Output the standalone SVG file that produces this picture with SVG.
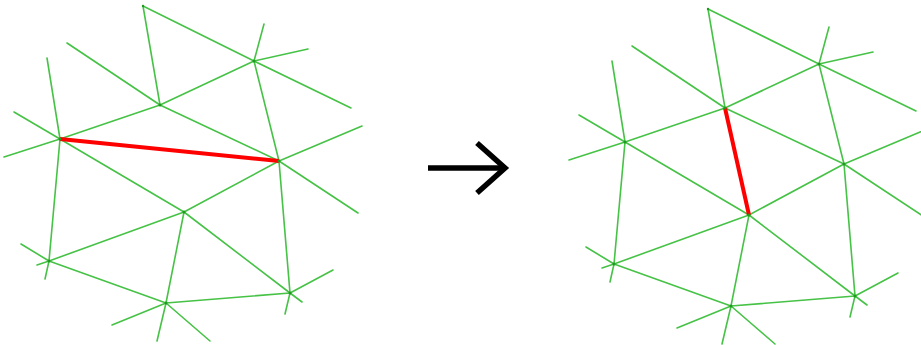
<svg xmlns="http://www.w3.org/2000/svg" width="921" height="345" viewBox="0 0 921 345">
  <style>
    .e { stroke: #46c246; stroke-width: 1.6; stroke-linecap: round; fill: none; }
    .flip { stroke: #ff0000; stroke-width: 4; stroke-linecap: butt; fill: none; }
    .v { fill: #1e9a1e; }
    .arrow { stroke: #000; stroke-width: 5.5; fill: none; }
  </style>
  <rect width="921" height="345" fill="#fff"/>

  <!-- Mesh before the edge flip -->
  <g id="mesh-before">
    <g id="edges-before">
      <!-- interior edges -->
      <line class="e" x1="143" y1="6" x2="160" y2="105"/>
      <line class="e" x1="143" y1="6" x2="254" y2="61"/>
      <line class="e" x1="160" y1="105" x2="254" y2="61"/>
      <line class="e" x1="160" y1="105" x2="60" y2="139"/>
      <line class="e" x1="160" y1="105" x2="279" y2="161"/>
      <line class="e" x1="60" y1="139" x2="184" y2="212"/>
      <line class="e" x1="60" y1="139" x2="49" y2="261"/>
      <line class="e" x1="254" y1="61" x2="279" y2="161"/>
      <line class="e" x1="279" y1="161" x2="184" y2="212"/>
      <line class="e" x1="279" y1="161" x2="290" y2="293"/>
      <line class="e" x1="184" y1="212" x2="290" y2="293"/>
      <line class="e" x1="184" y1="212" x2="49" y2="261"/>
      <line class="e" x1="184" y1="212" x2="166" y2="303"/>
      <line class="e" x1="49" y1="261" x2="166" y2="303"/>
      <line class="e" x1="166" y1="303" x2="290" y2="293"/>
      <!-- boundary spokes -->
      <line class="e" x1="60" y1="139" x2="47" y2="58"/>
      <line class="e" x1="60" y1="139" x2="14" y2="112"/>
      <line class="e" x1="60" y1="139" x2="4" y2="157"/>
      <line class="e" x1="160" y1="105" x2="67" y2="43"/>
      <line class="e" x1="254" y1="61" x2="264" y2="24"/>
      <line class="e" x1="254" y1="61" x2="308" y2="49"/>
      <line class="e" x1="254" y1="61" x2="351" y2="108"/>
      <line class="e" x1="279" y1="161" x2="362" y2="126"/>
      <line class="e" x1="279" y1="161" x2="358" y2="213"/>
      <line class="e" x1="290" y1="293" x2="333" y2="270"/>
      <line class="e" x1="290" y1="293" x2="302" y2="302"/>
      <line class="e" x1="290" y1="293" x2="285" y2="314"/>
      <line class="e" x1="49" y1="261" x2="21" y2="244"/>
      <line class="e" x1="49" y1="261" x2="37" y2="265"/>
      <line class="e" x1="49" y1="261" x2="45" y2="279"/>
      <line class="e" x1="166" y1="303" x2="112" y2="325"/>
      <line class="e" x1="166" y1="303" x2="157" y2="341"/>
      <line class="e" x1="166" y1="303" x2="210" y2="341"/>
      <!-- edge to be flipped -->
      <line class="flip" x1="60" y1="139" x2="279" y2="161"/>
    </g>
    <g id="b-T"><circle class="v" cx="143" cy="6" r="1.2"/></g>
    <g id="b-A"><circle class="v" cx="160" cy="105" r="1.5"/></g>
    <g id="b-L"><circle class="v" cx="60" cy="139" r="1.5"/></g>
    <g id="b-B"><circle class="v" cx="254" cy="61" r="1.5"/></g>
    <g id="b-C"><circle class="v" cx="279" cy="161" r="1.5"/></g>
    <g id="b-D"><circle class="v" cx="184" cy="212" r="1.5"/></g>
    <g id="b-E"><circle class="v" cx="290" cy="293" r="1.5"/></g>
    <g id="b-F"><circle class="v" cx="166" cy="303" r="1.5"/></g>
    <g id="b-G"><circle class="v" cx="49" cy="261" r="1.5"/></g>
  </g>

  <!-- Arrow -->
  <g id="arrow">
    <line class="arrow" x1="428" y1="168" x2="505" y2="168"/>
    <polyline class="arrow" points="477,143 505,168 477,193"/>
  </g>

  <!-- Mesh after the edge flip -->
  <g id="mesh-after" transform="translate(565,3)">
    <g id="edges-after">
      <line class="e" x1="143" y1="6" x2="160" y2="105"/>
      <line class="e" x1="143" y1="6" x2="254" y2="61"/>
      <line class="e" x1="160" y1="105" x2="254" y2="61"/>
      <line class="e" x1="160" y1="105" x2="60" y2="139"/>
      <line class="e" x1="160" y1="105" x2="279" y2="161"/>
      <line class="e" x1="60" y1="139" x2="184" y2="212"/>
      <line class="e" x1="60" y1="139" x2="49" y2="261"/>
      <line class="e" x1="254" y1="61" x2="279" y2="161"/>
      <line class="e" x1="279" y1="161" x2="184" y2="212"/>
      <line class="e" x1="279" y1="161" x2="290" y2="293"/>
      <line class="e" x1="184" y1="212" x2="290" y2="293"/>
      <line class="e" x1="184" y1="212" x2="49" y2="261"/>
      <line class="e" x1="184" y1="212" x2="166" y2="303"/>
      <line class="e" x1="49" y1="261" x2="166" y2="303"/>
      <line class="e" x1="166" y1="303" x2="290" y2="293"/>
      <line class="e" x1="60" y1="139" x2="47" y2="58"/>
      <line class="e" x1="60" y1="139" x2="14" y2="112"/>
      <line class="e" x1="60" y1="139" x2="4" y2="157"/>
      <line class="e" x1="160" y1="105" x2="67" y2="43"/>
      <line class="e" x1="254" y1="61" x2="264" y2="24"/>
      <line class="e" x1="254" y1="61" x2="308" y2="49"/>
      <line class="e" x1="254" y1="61" x2="351" y2="108"/>
      <line class="e" x1="279" y1="161" x2="362" y2="126"/>
      <line class="e" x1="279" y1="161" x2="358" y2="213"/>
      <line class="e" x1="290" y1="293" x2="333" y2="270"/>
      <line class="e" x1="290" y1="293" x2="302" y2="302"/>
      <line class="e" x1="290" y1="293" x2="285" y2="314"/>
      <line class="e" x1="49" y1="261" x2="21" y2="244"/>
      <line class="e" x1="49" y1="261" x2="37" y2="265"/>
      <line class="e" x1="49" y1="261" x2="45" y2="279"/>
      <line class="e" x1="166" y1="303" x2="112" y2="325"/>
      <line class="e" x1="166" y1="303" x2="157" y2="341"/>
      <line class="e" x1="166" y1="303" x2="210" y2="341"/>
      <!-- flipped edge -->
      <line class="flip" x1="160" y1="105" x2="184" y2="212"/>
    </g>
    <g id="a-T"><circle class="v" cx="143" cy="6" r="1.2"/></g>
    <g id="a-A"><circle class="v" cx="160" cy="105" r="1.5"/></g>
    <g id="a-L"><circle class="v" cx="60" cy="139" r="1.5"/></g>
    <g id="a-B"><circle class="v" cx="254" cy="61" r="1.5"/></g>
    <g id="a-C"><circle class="v" cx="279" cy="161" r="1.5"/></g>
    <g id="a-D"><circle class="v" cx="184" cy="212" r="1.5"/></g>
    <g id="a-E"><circle class="v" cx="290" cy="293" r="1.5"/></g>
    <g id="a-F"><circle class="v" cx="166" cy="303" r="1.5"/></g>
    <g id="a-G"><circle class="v" cx="49" cy="261" r="1.5"/></g>
  </g>
</svg>
